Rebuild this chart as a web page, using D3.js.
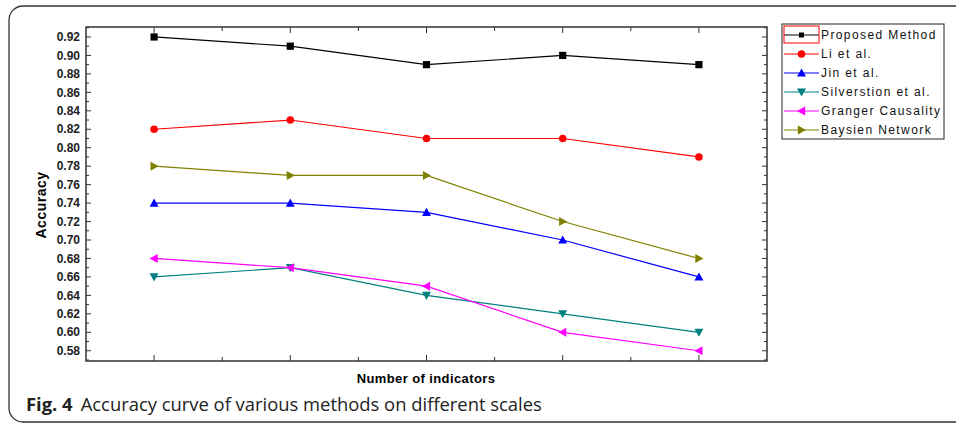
<!DOCTYPE html>
<head>
<meta charset="utf-8" />
<script src="https://d3js.org/d3.v7.min.js"></script>
<style>
  body { margin: 0; background: #fff; }
  text { font-family: "Liberation Sans", Arial, sans-serif; }
  text.caption { font-family: "Open Sans", "Noto Sans", sans-serif; }
</style>
</head>
<body>
<script>
var width = 956, height = 425;

// data
var xValues = [1, 2, 3, 4, 5];
var methods = ["Proposed Method", "Li et al.", "Jin et al.", "Silverstion et al.", "Granger Causality", "Baysien Network"];
var proposed = [0.92, 0.91, 0.89, 0.90, 0.89];
var li = [0.82, 0.83, 0.81, 0.81, 0.79];
var jin = [0.74, 0.74, 0.73, 0.70, 0.66];
var silverstion = [0.66, 0.67, 0.64, 0.62, 0.60];
var granger = [0.68, 0.67, 0.65, 0.60, 0.58];
var baysien = [0.78, 0.77, 0.77, 0.72, 0.68];
var yTicks = [0.58, 0.60, 0.62, 0.64, 0.66, 0.68, 0.70, 0.72, 0.74, 0.76, 0.78, 0.80, 0.82, 0.84, 0.86, 0.88, 0.90, 0.92];

var colors = ["#000000", "#ff0000", "#0000ff", "#008080", "#ff00ff", "#808000"];
var series = [proposed, li, jin, silverstion, granger, baysien];
var shapes = ["square", "circle", "up", "down", "left", "right"];

var svg = d3.select("body").append("svg")
    .attr("width", width).attr("height", height);

// card border
svg.append("rect")
    .attr("x", 9).attr("y", 6)
    .attr("width", 1000).attr("height", 416)
    .attr("rx", 14)
    .attr("fill", "none").attr("stroke", "#333").attr("stroke-width", 1.3);

var m = { left: 86, top: 27, right: 767, bottom: 361 };

var x = d3.scaleLinear().domain([0.5, 5.5]).range([m.left, m.right]);
var y = d3.scaleLinear().domain([0.5689, 0.9308]).range([m.bottom, m.top]);

var g = svg.append("g");

// ticks (all inward)
var yMinor = d3.range(0.57, 0.93, 0.01);
var xMajor = xValues;
var xMinor = [1.5, 2.5, 3.5, 4.5];

function tickLine(x1, y1, x2, y2) {
    g.append("line").attr("x1", x1).attr("y1", y1).attr("x2", x2).attr("y2", y2)
        .attr("stroke", "#333").attr("stroke-width", 1);
}
yMinor.forEach(function (v) {
    var major = yTicks.some(function (t) { return Math.abs(t - v) < 0.001; });
    var len = major ? 5 : 3;
    tickLine(m.left, y(v), m.left + len, y(v));
    tickLine(m.right, y(v), m.right - len, y(v));
});
xMajor.forEach(function (v) {
    tickLine(x(v), m.bottom, x(v), m.bottom - 6);
    tickLine(x(v), m.top, x(v), m.top + 6);
});
xMinor.forEach(function (v) {
    tickLine(x(v), m.bottom, x(v), m.bottom - 4);
    tickLine(x(v), m.top, x(v), m.top + 4);
});

// y tick labels
g.selectAll(".ylab").data(yTicks).join("text")
    .attr("x", m.left - 6).attr("y", function (d) { return y(d); })
    .attr("dy", "0.35em").attr("text-anchor", "end")
    .attr("font-size", 12).attr("font-weight", "bold").attr("fill", "#222")
    .text(function (d) { return d3.format(".2f")(d); });

// frame
svg.append("rect")
    .attr("x", m.left).attr("y", m.top)
    .attr("width", m.right - m.left).attr("height", m.bottom - m.top)
    .attr("fill", "none").attr("stroke", "#333").attr("stroke-width", 1.5);

// axis titles
svg.append("text")
    .attr("transform", "translate(46," + ((m.top + m.bottom) / 2 + 11) + ") rotate(-90)")
    .attr("text-anchor", "middle").attr("font-size", 14).attr("font-weight", "bold")
    .attr("letter-spacing", "0.5px")
    .text("Accuracy");
svg.append("text")
    .attr("x", 426).attr("y", 383).attr("text-anchor", "middle")
    .attr("font-size", 13).attr("font-weight", "bold").attr("letter-spacing", "0.4px")
    .text("Number of indicators");

// marker drawing
function marker(sel, shape, color) {
    var s = 4.5;
    if (shape === "square") {
        sel.append("rect").attr("x", -3.6).attr("y", -3.6).attr("width", 7.2).attr("height", 7.2).attr("fill", color);
    } else if (shape === "circle") {
        sel.append("circle").attr("r", 3.8).attr("fill", color);
    } else {
        var pts = {
            up: [[0, -s], [s, s * 0.8], [-s, s * 0.8]],
            down: [[0, s], [s, -s * 0.8], [-s, -s * 0.8]],
            left: [[-s, 0], [s * 0.8, -s], [s * 0.8, s]],
            right: [[s, 0], [-s * 0.8, -s], [-s * 0.8, s]]
        }[shape];
        sel.append("path").attr("d", "M" + pts.join("L") + "Z").attr("fill", color);
    }
}

var line = d3.line()
    .x(function (d, i) { return x(xValues[i]); })
    .y(function (d) { return y(d); });

series.forEach(function (vals, k) {
    g.append("path").datum(vals)
        .attr("d", line).attr("fill", "none")
        .attr("stroke", colors[k]).attr("stroke-width", 1.2);
    vals.forEach(function (v, i) {
        var mg = g.append("g").attr("transform", "translate(" + x(xValues[i]) + "," + y(v) + ")");
        marker(mg, shapes[k], colors[k]);
    });
});

// legend
var lg = svg.append("g").attr("transform", "translate(782,24)");
lg.append("rect").attr("x", 0).attr("y", 0).attr("width", 162).attr("height", 115)
    .attr("fill", "#fff").attr("stroke", "#222").attr("stroke-width", 1);
methods.forEach(function (name, k) {
    var cy = 11 + k * 19;
    lg.append("line").attr("x1", 2).attr("x2", 37).attr("y1", cy).attr("y2", cy)
        .attr("stroke", colors[k]).attr("stroke-width", 1.2);
    var mg = lg.append("g").attr("transform", "translate(19.5," + cy + ")");
    if (k === 0) {
        mg.append("rect").attr("x", -2.5).attr("y", -2.5).attr("width", 5).attr("height", 5).attr("fill", "#000");
    } else {
        marker(mg, shapes[k], colors[k]);
    }
    lg.append("text").attr("x", 39).attr("y", cy).attr("dy", "0.36em")
        .attr("font-size", 12).attr("letter-spacing", "1.4px").attr("fill", "#111")
        .text(name);
});
lg.append("rect").attr("x", 2).attr("y", 2).attr("width", 35).attr("height", 17)
    .attr("fill", "none").attr("stroke", "#ff0000").attr("stroke-width", 1);

// caption
var cap = svg.append("text").attr("class", "caption").attr("x", 26).attr("y", 411)
    .attr("font-size", 18.4).attr("fill", "#222");
cap.append("tspan").attr("font-weight", "bold").text("Fig. 4");
cap.append("tspan").attr("dx", 8).text("Accuracy curve of various methods on different scales");
</script>
</body>
